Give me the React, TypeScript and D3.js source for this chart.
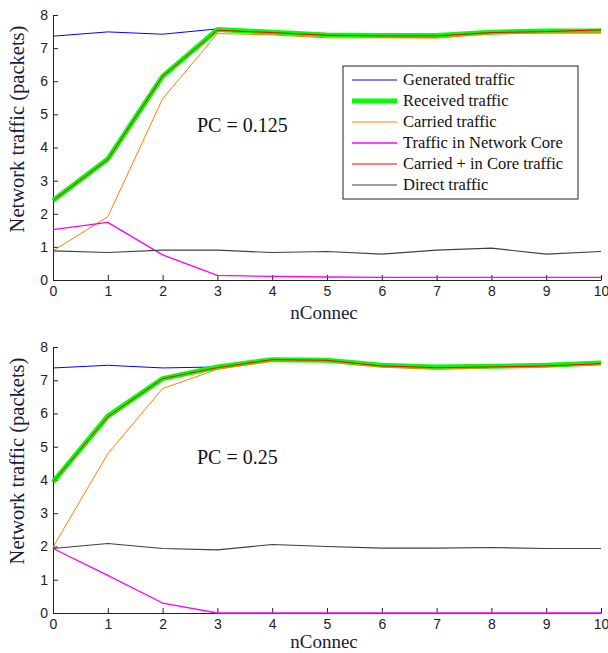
import React, { useEffect, useRef } from "react";
import * as d3 from "d3";

// nConnec values on the x axis
const nConnec = [0, 1, 2, 3, 4, 5, 6, 7, 8, 9, 10];
const yTicks = [0, 1, 2, 3, 4, 5, 6, 7, 8];

const seriesNames = [
  "Generated traffic",
  "Received traffic",
  "Carried traffic",
  "Traffic in Network Core",
  "Carried + in Core traffic",
  "Direct traffic",
];
const seriesColors = ["#0000ff", "#00ff00", "#ff8000", "#ff00ff", "#ff0000", "#404040"];
const seriesWidths = [1, 5, 1, 1.3, 1, 1.2];

// PC = 0.125
const generated125 = [7.36, 7.49, 7.42, 7.58, 7.48, 7.4, 7.4, 7.4, 7.5, 7.52, 7.54];
const received125 = [2.4, 3.65, 6.15, 7.56, 7.48, 7.4, 7.38, 7.38, 7.48, 7.52, 7.52];
const carried125 = [0.88, 1.91, 5.47, 7.44, 7.4, 7.31, 7.31, 7.3, 7.44, 7.46, 7.46];
const core125 = [1.52, 1.74, 0.76, 0.14, 0.11, 0.09, 0.08, 0.08, 0.08, 0.08, 0.08];
const carriedCore125 = [2.4, 3.64, 6.15, 7.54, 7.47, 7.39, 7.37, 7.37, 7.47, 7.5, 7.55];
const direct125 = [0.88, 0.83, 0.9, 0.9, 0.83, 0.86, 0.78, 0.9, 0.96, 0.78, 0.86];

// PC = 0.25
const generated25 = [7.37, 7.45, 7.37, 7.4, 7.62, 7.6, 7.45, 7.4, 7.42, 7.45, 7.52];
const received25 = [3.94, 5.92, 7.05, 7.4, 7.62, 7.6, 7.45, 7.4, 7.42, 7.45, 7.52];
const carried25 = [1.98, 4.79, 6.75, 7.33, 7.58, 7.58, 7.4, 7.33, 7.38, 7.42, 7.48];
const core25 = [1.94, 1.13, 0.3, 0.0, 0.0, 0.0, 0.0, 0.0, 0.0, 0.0, 0.0];
const carriedCore25 = [3.94, 5.9, 7.05, 7.38, 7.62, 7.6, 7.43, 7.38, 7.4, 7.43, 7.5];
const direct25 = [1.94, 2.09, 1.94, 1.9, 2.06, 2.0, 1.95, 1.95, 1.97, 1.94, 1.94];

const panels = [
  {
    label: "PC = 0.125",
    series: [generated125, received125, carried125, core125, carriedCore125, direct125],
    top: 15,
    bottom: 280,
    xlabelGap: 39,
    legend: true,
  },
  {
    label: "PC = 0.25",
    series: [generated25, received25, carried25, core25, carriedCore25, direct25],
    top: 347,
    bottom: 613,
    xlabelGap: 35,
    legend: false,
  },
];

export default function App() {
  const svgRef = useRef<SVGSVGElement>(null);

  useEffect(() => {
    const w = 608;
    const h = 653;
    const svg = d3.select(svgRef.current).attr("width", w).attr("height", h);
    svg.selectAll("*").remove();
    svg.append("rect").attr("width", w).attr("height", h).attr("fill", "#fff");

    const x = d3.scaleLinear().domain([0, 10]).range([53, 601]);

    panels.forEach((p) => {
      const y = d3.scaleLinear().domain([0, 8]).range([p.bottom, p.top]);
      const g = svg.append("g");

      const xAxis = g
        .append("g")
        .attr("transform", `translate(0,${p.bottom})`)
        .call(d3.axisBottom(x).tickValues(nConnec).tickSizeInner(-5).tickSizeOuter(0).tickPadding(6));
      const yAxis = g
        .append("g")
        .attr("transform", `translate(${x(0)},0)`)
        .call(d3.axisLeft(y).tickValues(yTicks).tickSizeInner(-5).tickSizeOuter(0).tickPadding(5));

      [xAxis, yAxis].forEach((a) => {
        a.select(".domain").attr("stroke", "#222");
        a.selectAll(".tick line").attr("stroke", "#222");
        a.selectAll(".tick text")
          .attr("fill", "#222")
          .attr("font-family", "Liberation Sans, Arial, sans-serif")
          .attr("font-size", 14);
      });

      const line = d3
        .line<number>()
        .x((d, i) => x(nConnec[i]))
        .y((d) => y(d));

      p.series.forEach((s, i) => {
        g.append("path")
          .datum(s)
          .attr("d", line)
          .attr("fill", "none")
          .attr("stroke", seriesColors[i])
          .attr("stroke-width", seriesWidths[i])
          .attr("stroke-linejoin", "round");
      });

      g.append("text")
        .attr("x", 197)
        .attr("y", p.top + 117)
        .attr("font-family", "Liberation Serif, Times New Roman, serif")
        .attr("font-size", 20)
        .attr("fill", "#111")
        .text(p.label);

      g.append("text")
        .attr("x", 324)
        .attr("y", p.bottom + p.xlabelGap)
        .attr("text-anchor", "middle")
        .attr("font-family", "Liberation Serif, Times New Roman, serif")
        .attr("font-size", 19)
        .attr("fill", "#1a1a3a")
        .text("nConnec");

      g.append("text")
        .attr("transform", `translate(24,${p.top + 114}) rotate(-90)`)
        .attr("text-anchor", "middle")
        .attr("font-family", "Liberation Serif, Times New Roman, serif")
        .attr("font-size", 20.5)
        .attr("fill", "#1a1a3a")
        .text("Network traffic (packets)");

      if (p.legend) {
        const lg = g.append("g").attr("transform", "translate(343,66)");
        lg.append("rect")
          .attr("width", 235)
          .attr("height", 133)
          .attr("fill", "#fff")
          .attr("stroke", "#222")
          .attr("stroke-width", 1);
        seriesNames.forEach((name, i) => {
          const yy = 14 + i * 21;
          lg.append("line")
            .attr("x1", 9)
            .attr("x2", 54)
            .attr("y1", yy)
            .attr("y2", yy)
            .attr("stroke", seriesColors[i])
            .attr("stroke-width", i === 1 ? 5 : seriesWidths[i]);
          lg.append("text")
            .attr("x", 60)
            .attr("y", yy + 5)
            .attr("font-family", "Liberation Serif, Times New Roman, serif")
            .attr("font-size", 16.5)
            .attr("fill", "#111")
            .text(name);
        });
      }
    });
  }, []);

  return (
    <div>
      <svg ref={svgRef} style={{ position: "absolute", left: 0, top: 0, display: "block" }}></svg>
    </div>
  );
}
